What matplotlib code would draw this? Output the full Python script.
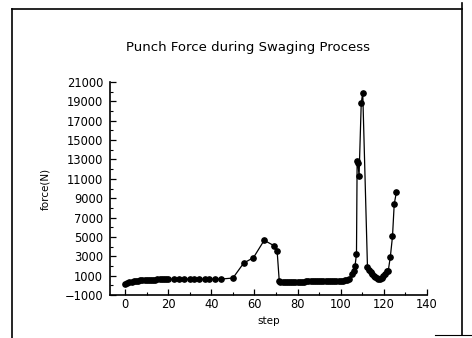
import numpy as np
import matplotlib
matplotlib.use("Agg")
from matplotlib import pyplot as plt
from matplotlib.lines import Line2D

# data
step_a = [0, 1, 2, 3, 4, 5, 6, 7, 8, 9, 10, 11, 12, 13, 14, 15, 16, 17, 18, 19, 20,
          22.5, 25, 27.5, 30, 32, 34.5, 37, 39, 41.5, 44.5]
force_a = [100, 250, 330, 380, 420, 450, 480, 500, 520, 540, 555, 570, 580, 590, 600,
           610, 615, 620, 625, 630, 635, 640, 640, 640, 640, 640, 640, 645, 645, 650, 650]

step_b = [50, 55, 59.5, 64.5, 69, 70.5, 71.5]
force_b = [750, 2300, 2850, 4650, 4100, 3550, 400]

step_c = [72, 73, 74, 75, 76, 77, 78, 79, 80, 81, 82, 83, 84, 85, 86, 87, 88, 89, 90,
          91, 92, 93, 94, 95, 96, 97, 98, 99, 100, 101, 102, 103]
force_c = [380, 380, 380, 380, 380, 385, 385, 385, 390, 390, 390, 390, 395, 395, 395,
           400, 400, 400, 400, 405, 405, 410, 410, 415, 420, 425, 430, 440, 450, 470, 500, 540]

step_d = [104, 105, 106, 106.6, 107.3, 107.6, 108.0, 108.5, 109.5, 110.2,
          112.4, 113.1, 113.8, 114.5, 115.2, 116, 116.8, 117.5, 118.2, 119,
          119.8, 120.6, 121.3, 122, 123, 124, 124.8, 125.8]
force_d = [650, 1200, 1500, 1950, 3250, 12800, 12600, 11300, 18800, 19900,
           1850, 1600, 1350, 1150, 1000, 850, 720, 660, 700, 800,
           950, 1150, 1500, 1450, 2950, 5050, 8400, 9600]

steps = step_a + step_b + step_c + step_d
forces = force_a + force_b + force_c + force_d

W, H = 472, 338
fig = plt.figure(figsize=(W / 100, H / 100), dpi=100)
ax = fig.add_axes([110 / W, 43 / H, (427 - 110) / W, (295 - 82) / H])

ax.plot(steps, forces, 'k-', lw=0.9, marker='o', ms=3.8, mfc='k', mec='k')

ax.set_xlim(-7, 140)
ax.set_ylim(-1000, 21000)
ax.set_xticks(np.arange(0, 141, 20))
ax.set_xticks(np.arange(0, 141, 10), minor=True)
ax.set_yticks(np.arange(-1000, 21001, 2000))
ax.set_yticks(np.arange(-1000, 21001, 1000), minor=True)
ax.tick_params(direction='in', length=4, width=0.9, labelsize=8.3)
ax.tick_params(axis='x', pad=2)
ax.tick_params(axis='y', pad=5)
ax.tick_params(which='minor', direction='in', length=2, width=0.8)
for s in ['top', 'right']:
    ax.spines[s].set_visible(False)
for s in ['left', 'bottom']:
    ax.spines[s].set_linewidth(1.2)

ax.set_xlabel('step', fontsize=7.5, labelpad=4)
ax.set_ylabel('force(N)', fontsize=7.5, labelpad=10)
fig.text(248 / W, 1 - 48 / H, 'Punch Force during Swaging Process',
         ha='center', va='center', fontsize=9.5)

# page border from the scan
fig.add_artist(Line2D([12 / W, 12 / W], [0, 1 - 9 / H], color='k', lw=1.2))
fig.add_artist(Line2D([12 / W, 462 / W], [1 - 9 / H, 1 - 9 / H], color='k', lw=1.2))
fig.add_artist(Line2D([462 / W, 462 / W], [1 - 335 / H, 1 - 3 / H], color='k', lw=1.2))
fig.add_artist(Line2D([435 / W, 1], [1 - 335 / H, 1 - 335 / H], color='k', lw=0.8))

fig.savefig('out.png', dpi=100)
